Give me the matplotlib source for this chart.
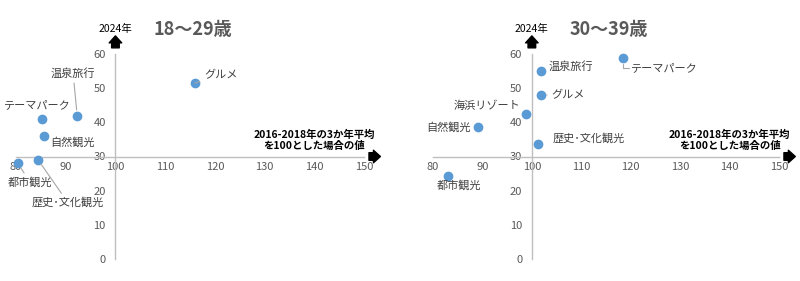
import matplotlib
matplotlib.use('Agg')
import matplotlib.pyplot as plt

plt.rcParams['font.family'] = ['Noto Sans CJK JP', 'DejaVu Sans']

# 18〜29歳
young_names = ['グルメ', '温泉旅行', 'テーマパーク', '自然観光', '都市観光', '歴史･文化観光']
young_x = [116.0, 92.3, 85.2, 85.7, 80.4, 84.4]
young_y = [51.5, 42.0, 40.9, 35.9, 28.0, 29.1]

# 30〜39歳
mid_names = ['温泉旅行', 'テーマパーク', 'グルメ', '海浜リゾート', '自然観光', '歴史･文化観光', '都市観光']
mid_x = [101.9, 118.5, 101.9, 98.8, 89.1, 101.3, 83.0]
mid_y = [55.0, 58.8, 48.0, 42.4, 38.5, 33.8, 24.4]

x_ticks = [80, 90, 100, 110, 120, 130, 140, 150]
y_ticks = [0, 10, 20, 30, 40, 50, 60]

# label layout: (dx px, dy px, ha, leader)
young_layout = [(9, 8, 'left', True), (-4, 42, 'center', True), (-4, 14, 'center', False),
                (6, -6, 'left', False), (12, -19, 'center', True), (30, -43, 'center', True)]
mid_layout = [(7, 5, 'left', False), (8, -10, 'left', 'angle'), (10, 0, 'left', True),
              (-6, 8, 'right', False), (-7, 0, 'right', False), (14, 5, 'left', False),
              (11, -10, 'center', False)]

BLUE = '#5B9BD5'
GRID = '#BFBFBF'
TXT = '#404040'
TICK = '#595959'
PX = 0.72  # px -> pt at dpi 100


def draw_panel(ax, title, names, xs, ys, layout):
    ax.set_xlim(80, 150)
    ax.set_ylim(0, 60)
    for s in ['top', 'right']:
        ax.spines[s].set_visible(False)
    ax.spines['left'].set_position(('data', 100))
    ax.spines['bottom'].set_position(('data', 30))
    for s in ['left', 'bottom']:
        ax.spines[s].set_color(GRID)
        ax.spines[s].set_linewidth(1)
    ax.set_xticks(x_ticks)
    ax.set_yticks(y_ticks)
    ax.tick_params(axis='x', length=0, pad=4, labelsize=8, labelcolor=TICK)
    ax.tick_params(axis='y', length=0, pad=7, labelsize=8, labelcolor=TICK)
    ax.patch.set_alpha(0)

    ax.scatter(xs, ys, s=36, color=BLUE, zorder=3, clip_on=False)

    for name, x, y, (dx, dy, ha, leader) in zip(names, xs, ys, layout):
        props = None
        if leader == 'angle':
            props = dict(arrowstyle='-', color='#A6A6A6', lw=0.8, shrinkA=0, shrinkB=4,
                         connectionstyle='angle,angleA=0,angleB=90,rad=0')
        elif leader:
            props = dict(arrowstyle='-', color='#A6A6A6', lw=0.8, shrinkA=1, shrinkB=4)
        ax.annotate(name, (x, y), xytext=(dx * PX, dy * PX), textcoords='offset points',
                    ha=ha, va='center', fontsize=8, color=TXT, arrowprops=props,
                    annotation_clip=False)

    # axis arrows
    ax.annotate('', xy=(100, 65.3), xytext=(100, 61.8), annotation_clip=False,
                arrowprops=dict(arrowstyle='simple,head_width=0.9,head_length=0.5,tail_width=0.55',
                                color='black', shrinkA=0, shrinkB=0))
    ax.annotate('', xy=(153.3, 30), xytext=(151.0, 30), annotation_clip=False,
                arrowprops=dict(arrowstyle='simple,head_width=0.9,head_length=0.5,tail_width=0.55',
                                color='black', shrinkA=0, shrinkB=0))
    ax.text(100, 67.2, '2024年', ha='center', va='center', fontsize=7.5, color='black')
    ax.text(115.5, 67.2, title, ha='center', va='center', fontsize=13,
            fontweight='bold', color=TICK)
    ax.text(140.0, 34.7, '2016-2018年の3か年平均\nを100とした場合の値', ha='center',
            va='center', fontsize=7.5, fontweight='bold', color='black', linespacing=1.2)


fig = plt.figure(figsize=(8, 2.81), dpi=100)
ax1 = fig.add_axes([16 / 800, 22 / 281, 348 / 800, 205 / 281])
ax2 = fig.add_axes([433 / 800, 22 / 281, 346 / 800, 205 / 281])

draw_panel(ax1, '18〜29歳', young_names, young_x, young_y, young_layout)
draw_panel(ax2, '30〜39歳', mid_names, mid_x, mid_y, mid_layout)

fig.savefig('out.png', dpi=100)
